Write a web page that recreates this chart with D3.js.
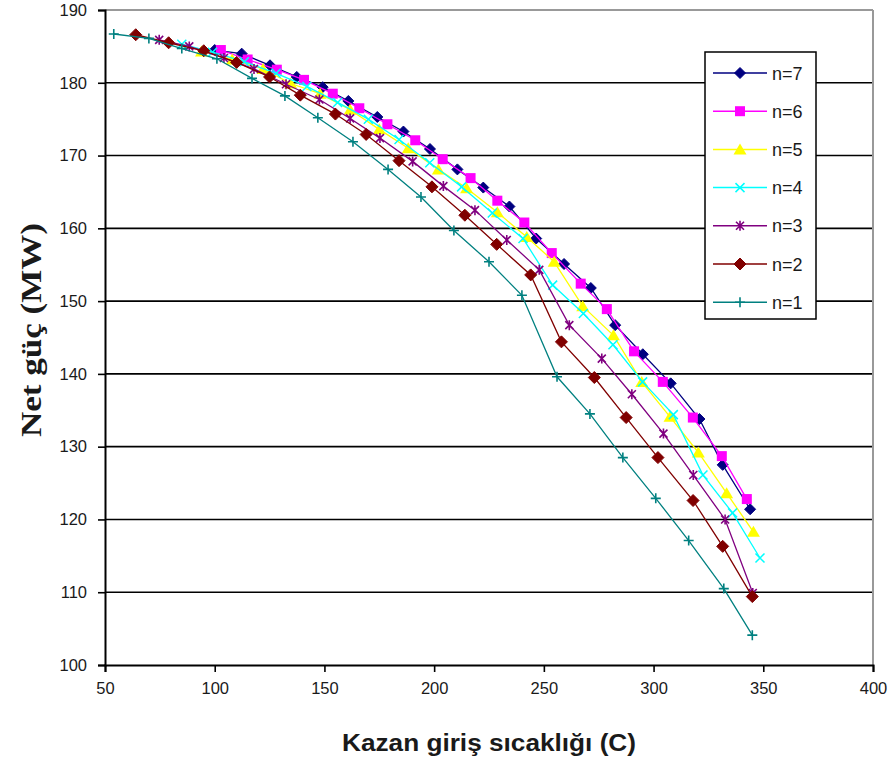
<!DOCTYPE html>
<html><head><meta charset="utf-8">
<script src="https://cdn.jsdelivr.net/npm/d3@7"></script>
<style>body{margin:0;background:#fff}svg{display:block}</style>
</head><body>
<svg id="c" width="896" height="765"></svg>
<script>
const xTicks = [50,100,150,200,250,300,350,400];
const yTicks = [100,110,120,130,140,150,160,170,180,190];
const seriesNames = ["n=7","n=6","n=5","n=4","n=3","n=2","n=1"];
const seriesColors = ["#000080","#ff00ff","#ffff00","#00ffff","#800080","#800000","#008080"];
const seriesMarkers = ["diamond","square","triangle","x","star","diamond2","plus"];

const x7 = [100,112.3,125.2,137.4,149.2,160.9,174.1,186.0,198.1,210.6,222.4,234.3,246.5,259.2,271.4,282.5,295.1,307.8,320.9,331.5,344.0];
const y7 = [184.5,184.0,182.4,180.8,179.4,177.5,175.3,173.3,170.9,168.1,165.6,163.0,158.6,155.1,151.8,146.7,142.7,138.7,133.8,127.5,121.4];
const x6 = [102.8,115,128.3,140.7,153.8,165.9,178.7,191.4,203.9,216.6,228.8,241.1,253.6,266.8,278.7,291.1,304.2,317.9,331.1,342.5];
const y6 = [184.5,183.2,181.8,180.4,178.5,176.5,174.3,172.1,169.5,166.9,163.8,160.8,156.6,152.4,148.9,143.1,138.9,134.0,128.7,122.8];
const x5 = [94,108,122,134.6,148,161.7,175,188.2,201.9,214.8,228.8,242.2,254.7,267.7,281.7,294.6,307.5,320.4,333.3,345.5];
const y5 = [184.3,183.2,181.9,179.9,178.5,176.3,173.6,171.0,168.1,165.5,162.2,158.8,155.4,149.3,145.3,138.9,134.1,129.2,123.6,118.3];
const x4 = [85,99,113.5,128,142,156,170,184,198,212.5,226.5,240.5,254,268,281.5,295,309,322.5,336,348.5];
const y4 = [185.3,184.2,182.9,181.3,179.5,177.3,175.0,172.2,169.0,165.7,162.1,158.6,152.2,148.3,144.0,138.9,134.4,126.1,120.9,114.7];
const x3 = [74.7,88.4,104.2,117.9,132.5,147.7,161.7,175.3,190.2,204.2,218.6,233.1,247.9,261.6,276.4,290.1,304.5,318.1,332.6,345.2];
const y3 = [185.9,185.0,183.4,181.9,179.8,177.7,175.1,172.4,169.2,165.8,162.5,158.4,154.3,146.7,142.1,137.2,131.8,126.1,120.0,109.9];
const x2 = [64,79,95,110,125,139,155,169,184,199,214,228.5,244,258,273,287.5,302,318,331.5,345];
const y2 = [186.6,185.5,184.4,182.8,180.8,178.3,175.7,172.9,169.3,165.7,161.8,157.8,153.6,144.4,139.5,134.0,128.5,122.6,116.3,109.4];
const x1 = [54,70,85,101,117,132,147,163,179,194,209,225,240,256,271,286,301,316,332,345];
const y1 = [186.7,186.1,184.7,183.3,180.6,178.2,175.2,171.9,168.1,164.3,159.7,155.4,150.8,139.6,134.5,128.5,122.9,117.1,110.5,104.1];

const seriesX = [x7,x6,x5,x4,x3,x2,x1];
const seriesY = [y7,y6,y5,y4,y3,y2,y1];

const svg = d3.select("#c");
const L = 105, R = 873, T = 10, B = 665;
const x = d3.scaleLinear().domain([50,400]).range([L,R]);
const y = d3.scaleLinear().domain([100,190]).range([B,T]);

// gridlines
svg.append("g").selectAll("line").data(yTicks.filter(d=>d>100 && d<190)).join("line")
  .attr("x1",L).attr("x2",R).attr("y1",d=>y(d)).attr("y2",d=>y(d))
  .attr("stroke","#000").attr("stroke-width",1.6);
// frame top/right
svg.append("line").attr("x1",L).attr("x2",R).attr("y1",T).attr("y2",T).attr("stroke","#999").attr("stroke-width",2);
svg.append("line").attr("x1",R).attr("x2",R).attr("y1",T).attr("y2",B).attr("stroke","#999").attr("stroke-width",2);

// axes
const font = "'Liberation Sans', Arial, sans-serif";
const xAxis = svg.append("g").attr("transform",`translate(0,${B})`)
  .call(d3.axisBottom(x).tickValues(xTicks).tickSize(7).tickPadding(10).tickFormat(d3.format("d")));
const yAxis = svg.append("g").attr("transform",`translate(${L},0)`)
  .call(d3.axisLeft(y).tickValues(yTicks).tickSize(7).tickPadding(11).tickFormat(d3.format("d")));
[xAxis,yAxis].forEach(g=>{
  g.select(".domain").attr("stroke","#000").attr("stroke-width",2);
  g.selectAll(".tick line").attr("stroke","#000").attr("stroke-width",1.6);
  g.selectAll(".tick text").attr("fill","#1a1a1a").style("font-family",font).style("font-size","16.5px");
});

// markers
function drawMarker(g, type, color, cx, cy){
  if(type==="diamond"||type==="diamond2"){
    const r = type==="diamond"?5.5:6;
    g.append("path").attr("d",`M${cx},${cy-r}L${cx+r},${cy}L${cx},${cy+r}L${cx-r},${cy}Z`).attr("fill",color).attr("stroke",color).attr("stroke-width",1);
  } else if(type==="square"){
    g.append("rect").attr("x",cx-5).attr("y",cy-5).attr("width",10).attr("height",10).attr("fill",color);
  } else if(type==="triangle"){
    g.append("path").attr("d",`M${cx},${cy-6}L${cx+6.5},${cy+5}L${cx-6.5},${cy+5}Z`).attr("fill",color);
  } else if(type==="x"){
    g.append("path").attr("d",`M${cx-4.5},${cy-4.5}L${cx+4.5},${cy+4.5}M${cx-4.5},${cy+4.5}L${cx+4.5},${cy-4.5}`).attr("stroke",color).attr("stroke-width",1.5);
  } else if(type==="star"){
    g.append("path").attr("d",`M${cx-4},${cy-4}L${cx+4},${cy+4}M${cx-4},${cy+4}L${cx+4},${cy-4}M${cx},${cy-5}L${cx},${cy+5}`).attr("stroke",color).attr("stroke-width",1.6);
  } else if(type==="plus"){
    g.append("path").attr("d",`M${cx-5},${cy}L${cx+5},${cy}M${cx},${cy-5}L${cx},${cy+5}`).attr("stroke",color).attr("stroke-width",1.6);
  }
}

const line = d3.line().x(d=>x(d[0])).y(d=>y(d[1]));
seriesNames.forEach((name,i)=>{
  const pts = seriesX[i].map((v,j)=>[v, seriesY[i][j]]);
  const g = svg.append("g");
  g.append("path").attr("d",line(pts)).attr("fill","none").attr("stroke",seriesColors[i]).attr("stroke-width",1.3);
  pts.forEach(p=>drawMarker(g, seriesMarkers[i], seriesColors[i], x(p[0]), y(p[1])));
});

// legend
const lg = svg.append("g");
lg.append("rect").attr("x",705).attr("y",52).attr("width",111).attr("height",267)
  .attr("fill","#fff").attr("stroke","#000").attr("stroke-width",1.5);
seriesNames.forEach((name,i)=>{
  const ly = 73 + i*38.2;
  lg.append("line").attr("x1",713).attr("x2",767).attr("y1",ly).attr("y2",ly).attr("stroke",seriesColors[i]).attr("stroke-width",1.5);
  drawMarker(lg, seriesMarkers[i], seriesColors[i], 740, ly);
  lg.append("text").attr("x",772).attr("y",ly+6.5).text(name)
    .attr("fill","#1a1a1a").style("font-family",font).style("font-size","18px");
});

// axis titles
svg.append("text").attr("x",489).attr("y",751).attr("text-anchor","middle")
  .attr("textLength",294).attr("lengthAdjust","spacingAndGlyphs")
  .style("font-family",font).style("font-size","23px").style("font-weight","bold").attr("fill","#1a1a1a")
  .text("Kazan giriş sıcaklığı (C)");
svg.append("text").attr("transform","translate(41,330) rotate(-90)").attr("text-anchor","middle")
  .attr("textLength",214).attr("lengthAdjust","spacingAndGlyphs")
  .style("font-family","'Liberation Serif','Times New Roman',serif").style("font-size","30px").style("font-weight","bold").attr("fill","#1a1a1a")
  .text("Net güç (MW)");
</script>
</body></html>
